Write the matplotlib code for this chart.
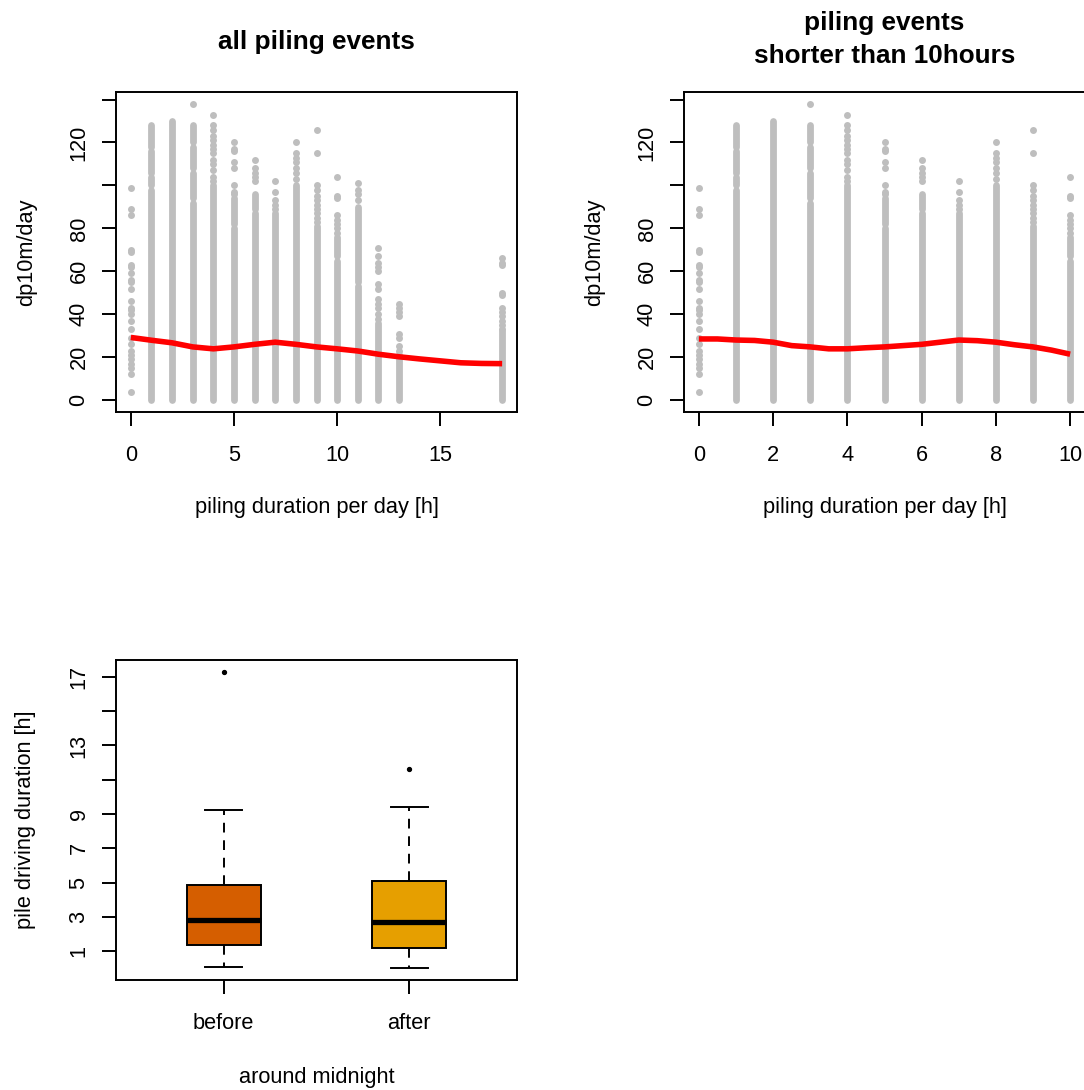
import matplotlib
matplotlib.use("Agg")
import matplotlib.pyplot as plt

plt.rcParams['font.family'] = ['Liberation Sans', 'DejaVu Sans']

# ---------------- data ----------------
# dense vertical runs of dp10m/day values per piling duration (h)
run_x = [1, 1, 1, 1, 2, 3, 3, 3, 3, 4, 5, 5, 6, 6, 7, 8, 9, 10, 10, 11, 11, 12, 13, 18]
run_lo = [0, 100, 106, 118, 0, 0, 94, 108, 120, 0, 0, 82, 0, 89, 0, 0, 0, 0, 67, 0, 55, 0, 0, 0]
run_hi = [98, 104, 116, 128, 130, 92, 106, 118, 128, 100, 80, 94, 87, 96, 87, 100, 81, 65, 76, 53, 90, 36, 19, 32]

# isolated points
pt_x = ([0] * 26 + [3] + [4] * 13 + [5] * 8 + [6] * 5 + [7] * 5 + [8] * 7 + [9] * 11
        + [10] * 8 + [11] * 4 + [12] * 12 + [13] * 9 + [18] * 11)
pt_y = ([4, 12, 15, 17, 19, 21, 23, 26, 29, 33, 37, 40, 42, 43, 46, 52, 55, 56, 59, 62, 63, 69, 70, 86, 89, 99]
        + [138]
        + [102, 104, 107, 110, 112, 115, 117, 119, 121, 123, 126, 128, 133]
        + [96, 97, 100, 108, 111, 116, 117, 120]
        + [102, 104, 106, 108, 112]
        + [89, 91, 93, 97, 102]
        + [103, 106, 108, 111, 113, 115, 120]
        + [83, 85, 87, 89, 91, 93, 95, 98, 100, 115, 126]
        + [78, 80, 82, 84, 86, 94, 95, 104]
        + [93, 96, 98, 101]
        + [38, 40, 43, 45, 47, 52, 54, 60, 62, 64, 67, 71]
        + [21, 23, 25, 29, 31, 39, 41, 43, 45]
        + [33, 35, 37, 39, 41, 43, 49, 50, 63, 64, 66])

# smoothed trend lines
smooth_all_x = [0, 1, 2, 3, 4, 5, 6, 7, 8, 9, 10, 11, 12, 13, 14, 15, 16, 17, 18]
smooth_all_y = [29.2, 27.9, 26.7, 24.8, 23.9, 24.8, 26.0, 27.0, 26.0, 24.8, 23.9,
                22.9, 21.4, 20.2, 19.2, 18.3, 17.4, 17.1, 17.0]
smooth_short_x = [0, 0.5, 1, 1.5, 2, 2.5, 3, 3.5, 4, 4.5, 5, 5.5, 6, 6.5, 7, 7.5, 8, 8.5, 9, 9.5, 10]
smooth_short_y = [28.5, 28.5, 28.0, 27.8, 27.0, 25.4, 24.8, 23.9, 23.9, 24.4, 24.8,
                  25.4, 26.0, 27.0, 28.0, 27.7, 27.0, 25.8, 24.8, 23.3, 21.4]

# boxplot statistics (pile driving duration [h])
box_labels = ["before", "after"]
box_q1 = [1.33, 1.20]
box_med = [2.80, 2.70]
box_q3 = [4.86, 5.06]
box_whislo = [0.05, 0.0]
box_whishi = [9.23, 9.42]
box_fliers = [[17.3], [11.6]]
box_colors = ["#D55E00", "#E69F00"]

# ---------------- styling ----------------
W, H = 1084, 1090
GRAY = "#BEBEBE"
FS = 15.7
TFS = 18.8
LW = 1.4


def rlim(lo, hi):
    r = hi - lo
    return lo - 0.04 * r, hi + 0.04 * r


def axes_px(left, top, right, bottom):
    return [left / W, 1 - bottom / H, (right - left) / W, (bottom - top) / H]


def style(ax):
    for s in ax.spines.values():
        s.set_linewidth(LW)
        s.set_color("black")
    ax.tick_params(direction="out", length=10, width=LW, labelsize=FS, color="black")
    ax.tick_params(axis="x", pad=13.5)
    ax.tick_params(axis="y", pad=9)


fig = plt.figure(figsize=(W / 100, H / 100), dpi=100)
fig.patch.set_facecolor("white")


def scatter_panel(ax, xmax, sm_x, sm_y, xticks):
    sel_r = [i for i in range(len(run_x)) if run_x[i] <= xmax]
    lc = ax.vlines([run_x[i] for i in sel_r], [run_lo[i] for i in sel_r],
                   [run_hi[i] for i in sel_r], colors=GRAY, linewidth=4.9, zorder=2)
    lc.set_capstyle("round")
    sel_p = [i for i in range(len(pt_x)) if pt_x[i] <= xmax]
    ax.plot([pt_x[i] for i in sel_p], [pt_y[i] for i in sel_p], "o", ms=5.0,
            mfc=GRAY, mec="none", zorder=2, clip_on=False)
    ax.plot(sm_x, sm_y, color="red", lw=4.0, solid_capstyle="butt", zorder=3)
    ymax = max(max(run_hi), max(pt_y))
    ax.set_xlim(*rlim(0, xmax))
    ax.set_ylim(*rlim(0, ymax))
    ax.set_xticks(xticks)
    ax.set_xticklabels([str(t) for t in xticks])
    yt = [0, 20, 40, 60, 80, 100, 120, 140]
    ax.set_yticks(yt)
    ax.set_yticklabels(["0", "20", "40", "60", "80", "", "120", ""], rotation=90, va="center")
    style(ax)
    ax.set_xlabel("piling duration per day [h]", fontsize=FS, va="center")
    ax.xaxis.set_label_coords(0.5, -(508 - 412) / 320)
    ax.set_ylabel("dp10m/day", fontsize=FS, va="center")
    ax.yaxis.set_label_coords(-(116 - 27) / 401, 0.5)


ax1 = fig.add_axes(axes_px(116, 92, 517, 412))
scatter_panel(ax1, 18, smooth_all_x, smooth_all_y, [0, 5, 10, 15])
fig.text(316.5 / W, 1 - 42 / H, "all piling events", ha="center", va="center",
         fontsize=TFS, fontweight="bold")

ax2 = fig.add_axes(axes_px(684, 92, 1085, 412))
scatter_panel(ax2, 10, smooth_short_x, smooth_short_y, [0, 2, 4, 6, 8, 10])
fig.text(884.5 / W, 1 - 39.5 / H, "piling events\nshorter than 10hours", ha="center",
         va="center", fontsize=TFS, fontweight="bold", linespacing=1.45)

# ---------------- boxplot ----------------
ax3 = fig.add_axes(axes_px(116, 660, 517, 980))
stats = []
for i in range(2):
    stats.append(dict(label=box_labels[i], q1=box_q1[i], med=box_med[i], q3=box_q3[i],
                      whislo=box_whislo[i], whishi=box_whishi[i], fliers=box_fliers[i]))
bp = ax3.bxp(stats, positions=[1, 2], widths=0.4, capwidths=[0.2, 0.2], patch_artist=True,
             boxprops=dict(linewidth=LW, edgecolor="black"),
             medianprops=dict(color="black", linewidth=3.8, solid_capstyle="butt"),
             whiskerprops=dict(color="black", linewidth=LW, linestyle=(0, (5, 4))),
             capprops=dict(color="black", linewidth=LW),
             flierprops=dict(marker="o", markersize=2.8, markerfacecolor="black",
                             markeredgecolor="black"))
for patch, c in zip(bp["boxes"], box_colors):
    patch.set_facecolor(c)
ax3.set_xlim(*rlim(0.5, 2.5))
all_vals = box_whislo + [v for f in box_fliers for v in f]
ax3.set_ylim(*rlim(min(all_vals), max(all_vals)))
yt3 = [1, 3, 5, 7, 9, 11, 13, 15, 17]
ax3.set_yticks(yt3)
ax3.set_yticklabels(["1", "3", "5", "7", "9", "", "13", "", "17"], rotation=90, va="center")
ax3.set_xticks([1, 2])
ax3.set_xticklabels(box_labels)
style(ax3)
ax3.set_xlabel("around midnight", fontsize=FS, va="center")
ax3.xaxis.set_label_coords(0.5, -(1077 - 980) / 320)
ax3.set_ylabel("pile driving duration [h]", fontsize=FS, va="center")
ax3.yaxis.set_label_coords(-(116 - 26) / 401, 0.5)

fig.savefig("out.png", dpi=100, facecolor="white")
